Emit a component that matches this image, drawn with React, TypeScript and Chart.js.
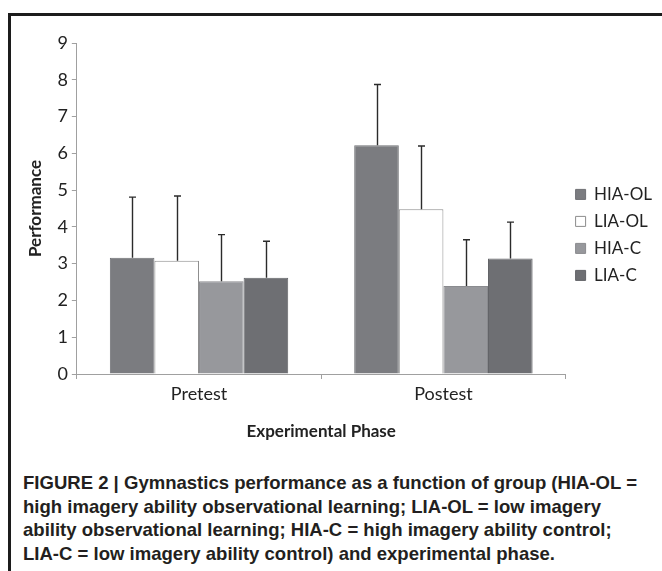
import { useEffect, useLayoutEffect, useRef } from "react";
import { Chart, registerables } from "chart.js";

Chart.register(...registerables);

const phases = ["Pretest", "Postest"];
const groups = ["HIA-OL", "LIA-OL", "HIA-C", "LIA-C"];
const hiaOl = [3.16, 6.22];
const liaOl = [3.08, 4.48];
const hiaC = [2.52, 2.39];
const liaC = [2.62, 3.14];
const hiaOlErr = [1.65, 1.65];
const liaOlErr = [1.76, 1.72];
const hiaCErr = [1.27, 1.26];
const liaCErr = [0.99, 0.99];
const yMin = 0;
const yMax = 9;
const yStep = 1;
const yTitle = "Performance";
const xTitle = "Experimental Phase";
const captionLines = [
  "FIGURE 2 | Gymnastics performance as a function of group (HIA-OL =",
  "high imagery ability observational learning; LIA-OL = low imagery",
  "ability observational learning; HIA-C = high imagery ability control;",
  "LIA-C = low imagery ability control) and experimental phase.",
];

const seriesValues = [hiaOl, liaOl, hiaC, liaC];
const seriesErrors = [hiaOlErr, liaOlErr, hiaCErr, liaCErr];
const fills = ["#7b7c80", "#ffffff", "#97989c", "#6e6f73"];
const borders = ["#6f7074", "#8c8c8c", "#8a8b8f", "#636468"];

const FONT = "Lato, 'Open Sans', sans-serif";
const CAPTION_WIDTH = 614;

const errorBars = {
  id: "errorBars",
  afterDatasetsDraw(chart: any) {
    const ctx = chart.ctx;
    const yScale = chart.scales.y;
    ctx.save();
    ctx.strokeStyle = "#2b2b2b";
    ctx.lineWidth = 1.4;
    chart.data.datasets.forEach((ds: any, i: number) => {
      const meta = chart.getDatasetMeta(i);
      meta.data.forEach((bar: any, j: number) => {
        const v = ds.data[j];
        const e = ds.errors[j];
        const yTop = yScale.getPixelForValue(v + e);
        const yBase = bar.y;
        const x = Math.round(bar.x) + 0.5;
        ctx.beginPath();
        ctx.moveTo(x, yBase);
        ctx.lineTo(x, yTop);
        ctx.moveTo(x - 3.5, yTop);
        ctx.lineTo(x + 3.5, yTop);
        ctx.stroke();
      });
    });
    ctx.restore();
  },
};

export default function App() {
  const ref = useRef<HTMLCanvasElement | null>(null);
  const capRef = useRef<HTMLDivElement | null>(null);
  const firstRef = useRef<HTMLSpanElement | null>(null);

  useLayoutEffect(() => {
    const el = capRef.current;
    const first = firstRef.current;
    if (!el || !first) return;
    const w = first.getBoundingClientRect().width;
    if (w > 0) el.style.transform = `scaleX(${CAPTION_WIDTH / w})`;
  }, []);

  useEffect(() => {
    if (!ref.current) return;
    const chart = new Chart(ref.current, {
      type: "bar",
      data: {
        labels: phases,
        datasets: groups.map((g, i) => ({
          label: g,
          data: seriesValues[i],
          errors: seriesErrors[i],
          backgroundColor: fills[i],
          borderColor: borders[i],
          borderWidth: 1,
          categoryPercentage: 0.73,
          barPercentage: 1,
        })) as any,
      },
      options: {
        animation: false,
        responsive: false,
        maintainAspectRatio: false,
        layout: { padding: { left: 25, top: 43, right: 0, bottom: 4 } },
        plugins: {
          tooltip: { enabled: false },
          legend: {
            position: "right",
            fullSize: false,
            align: "center",
            title: { display: true, text: "", padding: 0, font: { size: 44 } },
            labels: {
              boxWidth: 10,
              boxHeight: 10,
              padding: 10,
              color: "#222",
              font: { family: FONT, size: 17 },
            },
          },
        },
        scales: {
          x: {
            type: "category",
            offset: true,
            grid: {
              display: true,
              offset: true,
              drawOnChartArea: false,
              drawTicks: true,
              tickLength: 5,
              color: "#a0a0a0",
            },
            border: { color: "#a0a0a0", width: 1 },
            ticks: { color: "#222", padding: 4, font: { family: FONT, size: 18 } },
            title: {
              display: true,
              text: xTitle,
              color: "#222",
              font: { family: FONT, size: 17, weight: "bold" },
              padding: { top: 13, bottom: 0 },
            },
          },
          y: {
            min: yMin,
            max: yMax,
            grid: {
              display: true,
              drawOnChartArea: false,
              drawTicks: true,
              tickLength: 5,
              color: "#a0a0a0",
            },
            border: { color: "#a0a0a0", width: 1 },
            ticks: {
              stepSize: yStep,
              color: "#222",
              padding: 4,
              font: { family: FONT, size: 18 },
            },
            title: {
              display: true,
              text: yTitle,
              color: "#222",
              font: { family: FONT, size: 17, weight: "bold" },
              padding: { top: 0, bottom: 8 },
            },
          },
        },
      },
      plugins: [errorBars],
    });
    return () => chart.destroy();
  }, []);

  return (
    <div
      style={{
        position: "absolute",
        left: 0,
        top: 0,
        width: 662,
        height: 571,
        background: "#fff",
        overflow: "hidden",
      }}
    >
      <div
        style={{
          position: "absolute",
          left: 8,
          top: 13,
          width: 700,
          height: 600,
          borderTop: "3px solid #1c1c1c",
          borderLeft: "3px solid #1c1c1c",
        }}
      />
      <canvas
        ref={ref}
        width={662}
        height={446}
        style={{ position: "absolute", left: 0, top: 0, width: 662, height: 446 }}
      />
      <div
        ref={capRef}
        style={{
          position: "absolute",
          left: 23,
          top: 471,
          width: 900,
          transformOrigin: "0 0",
          fontFamily: "'Liberation Sans', Arial, sans-serif",
          fontWeight: "bold",
          fontSize: 19,
          lineHeight: "23.5px",
          color: "#231f20",
          whiteSpace: "nowrap",
        }}
      >
        {captionLines.map((l, i) => (
          <div key={i}>
            <span ref={i === 0 ? firstRef : undefined}>{l}</span>
          </div>
        ))}
      </div>
    </div>
  );
}
